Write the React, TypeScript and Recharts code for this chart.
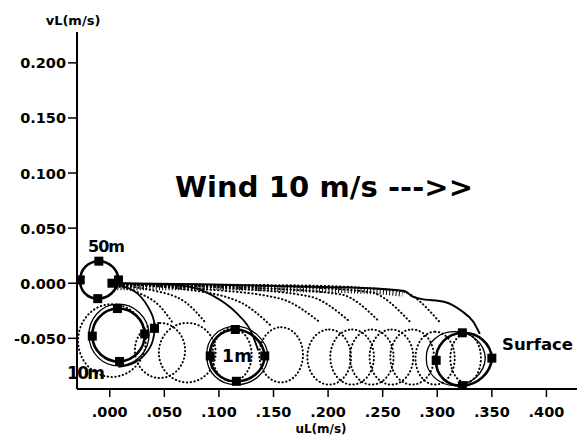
import React from 'react';
import { LineChart, Line, XAxis, YAxis } from 'recharts';

const xTicks = [0, 0.05, 0.1, 0.15, 0.2, 0.25, 0.3, 0.35, 0.4];
const yTicks = [-0.05, 0, 0.05, 0.1, 0.15, 0.2];

// circles are given by their four extreme points: top, right, bottom, left
const ring50m = [[-0.010, 0.020], [0.008, 0.003], [-0.011, -0.014], [-0.027, 0.003]];
const ring10m = [[0.007, -0.023], [0.032, -0.046], [0.009, -0.071], [-0.016, -0.048]];
const ring10mOuter = [[0.007, -0.019], [0.036, -0.046], [0.009, -0.075], [-0.019, -0.048]];
const ring1m = [[0.115, -0.042], [0.142, -0.066], [0.116, -0.089], [0.092, -0.066]];
const ring1mOuter = [[0.115, -0.039], [0.145, -0.066], [0.116, -0.092], [0.089, -0.066]];
const ringSurface = [[0.323, -0.045], [0.350, -0.068], [0.323, -0.093], [0.299, -0.070]];
const ringSurfaceOuter = [[0.316, -0.044], [0.344, -0.068], [0.316, -0.093], [0.290, -0.068]];

const dottedRings = [
  [[0.002, -0.019], [0.033, -0.052], [0.002, -0.085], [-0.029, -0.052]],
  [[0.046, -0.036], [0.069, -0.061], [0.046, -0.086], [0.023, -0.061]],
  [[0.071, -0.036], [0.097, -0.063], [0.071, -0.090], [0.045, -0.063]],
  [[0.112, -0.041], [0.130, -0.065], [0.112, -0.089], [0.094, -0.065]],
  [[0.157, -0.040], [0.177, -0.065], [0.157, -0.090], [0.137, -0.065]],
  [[0.201, -0.042], [0.221, -0.067], [0.201, -0.092], [0.181, -0.067]],
  [[0.222, -0.042], [0.242, -0.067], [0.222, -0.092], [0.202, -0.067]],
  [[0.240, -0.042], [0.260, -0.067], [0.240, -0.092], [0.220, -0.067]],
  [[0.258, -0.042], [0.278, -0.067], [0.258, -0.092], [0.238, -0.067]],
  [[0.277, -0.042], [0.297, -0.067], [0.277, -0.092], [0.257, -0.067]],
  [[0.298, -0.044], [0.316, -0.068], [0.298, -0.092], [0.280, -0.068]],
  [[0.326, -0.046], [0.340, -0.068], [0.326, -0.090], [0.312, -0.068]],
];

// solid paths
const pathSurface = [[0.000, 0.000], [0.082, -0.001], [0.174, -0.003], [0.247, -0.005], [0.270, -0.007], [0.277, -0.012], [0.284, -0.014], [0.307, -0.017], [0.322, -0.025], [0.333, -0.035], [0.339, -0.046]];
const hatchBand = [[0.004, -0.004], [0.082, -0.004], [0.174, -0.006], [0.247, -0.008], [0.268, -0.010]];
const path1m = [[0.002, 0.000], [0.064, -0.002], [0.094, -0.011], [0.116, -0.027], [0.130, -0.045], [0.136, -0.061]];
const path10m = [[0.007, -0.001], [0.025, -0.009], [0.038, -0.027], [0.041, -0.041], [0.037, -0.058], [0.023, -0.072], [0.008, -0.076]];
const extraMarkers = [[0.002, 0.000], [0.041, -0.041]];

// dotted paths
const dottedPaths = [
  [[0.002, -0.002], [0.027, -0.009], [0.046, -0.021], [0.057, -0.035]],
  [[0.002, -0.002], [0.037, -0.006], [0.069, -0.017], [0.087, -0.035]],
  [[0.002, -0.001], [0.064, -0.005], [0.119, -0.017], [0.147, -0.038]],
  [[0.002, -0.001], [0.082, -0.005], [0.156, -0.014], [0.192, -0.035]],
  [[0.002, -0.001], [0.101, -0.004], [0.183, -0.012], [0.220, -0.035]],
  [[0.002, -0.001], [0.128, -0.004], [0.211, -0.010], [0.247, -0.035]],
  [[0.002, -0.001], [0.156, -0.003], [0.238, -0.008], [0.275, -0.035]],
  [[0.002, -0.001], [0.174, -0.002], [0.266, -0.007], [0.302, -0.035]],
];

const toPts = (a: number[][]) => a.map(([x, y]) => ({ x, y }));

// closed curve through the four extreme points, quarter ellipses between them
const ringCurve = (context: any) => {
  let pts: number[][] = [];
  return {
    areaStart() {},
    areaEnd() {},
    lineStart() {
      pts = [];
    },
    point(x: number, y: number) {
      pts.push([+x, +y]);
    },
    lineEnd() {
      if (pts.length < 2) return;
      const xs = pts.map((p) => p[0]);
      const ys = pts.map((p) => p[1]);
      const cx = (Math.min(...xs) + Math.max(...xs)) / 2;
      const cy = (Math.min(...ys) + Math.max(...ys)) / 2;
      const k = 0.5523;
      context.moveTo(pts[0][0], pts[0][1]);
      for (let i = 0; i < pts.length; i++) {
        const a = pts[i];
        const b = pts[(i + 1) % pts.length];
        context.bezierCurveTo(
          a[0] + k * (b[0] - cx), a[1] + k * (b[1] - cy),
          b[0] + k * (a[0] - cx), b[1] + k * (a[1] - cy),
          b[0], b[1]
        );
      }
      context.closePath();
    },
  };
};

const Square = (props: any) => {
  const { cx, cy, index } = props;
  if (cx == null || cy == null) return <g key={`sq-${index}`} />;
  return <rect key={`sq-${index}`} x={cx - 4.5} y={cy - 4.5} width={9} height={9} fill="#000" />;
};

const FONT = '"DejaVu Sans", Verdana, sans-serif';
const DOTS = { strokeDasharray: '0.4 3.4', strokeLinecap: 'round' as const, strokeWidth: 2 };

const XTick = (props: any) => {
  const { x, y, payload } = props;
  const label = payload.value.toFixed(3).replace(/^0/, '');
  return (
    <text x={x} y={y + 19.5} textAnchor="middle" fontFamily={FONT} fontWeight={700} fontSize={14.5} fill="#000">
      {label}
    </text>
  );
};

const YTick = (props: any) => {
  const { x, y, payload } = props;
  const label = payload.value.toFixed(3);
  return (
    <text x={x} y={y + 5.5} textAnchor="end" fontFamily={FONT} fontWeight={700} fontSize={14.5} fill="#000">
      {label}
    </text>
  );
};

export default function App() {
  return (
    <div style={{ position: 'absolute', left: 0, top: 0, width: 577, height: 436, background: '#fff' }}>
      <LineChart width={577} height={436} margin={{ top: 32, right: 0, bottom: 0, left: 0 }}>
        <XAxis
          type="number"
          dataKey="x"
          domain={[-0.03, 0.428]}
          allowDataOverflow
          ticks={xTicks}
          interval={0}
          height={47}
          tickSize={8}
          tickMargin={0}
          axisLine={{ stroke: '#000', strokeWidth: 2 }}
          tickLine={{ stroke: '#000', strokeWidth: 1.5 }}
          tick={<XTick />}
        />
        <YAxis
          type="number"
          dataKey="y"
          domain={[-0.096, 0.228]}
          allowDataOverflow
          ticks={yTicks}
          interval={0}
          width={77}
          tickSize={9}
          tickMargin={2}
          axisLine={{ stroke: '#000', strokeWidth: 2 }}
          tickLine={{ stroke: '#000', strokeWidth: 1.5 }}
          tick={<YTick />}
        />
        {dottedPaths.map((d, i) => (
          <Line key={`dp${i}`} data={toPts(d)} dataKey="y" type="monotone" stroke="#000" {...DOTS} dot={false} activeDot={false} isAnimationActive={false} />
        ))}
        {dottedRings.map((d, i) => (
          <Line key={`dr${i}`} data={toPts(d)} dataKey="y" type={ringCurve as any} stroke="#000" {...DOTS} dot={false} activeDot={false} isAnimationActive={false} />
        ))}
        <Line data={toPts(hatchBand)} dataKey="y" type="monotone" stroke="#000" strokeWidth={5} strokeDasharray="1 2.2" dot={false} activeDot={false} isAnimationActive={false} />
        <Line data={toPts(pathSurface)} dataKey="y" type="monotone" stroke="#000" strokeWidth={2} dot={false} activeDot={false} isAnimationActive={false} />
        <Line data={toPts(path1m)} dataKey="y" type="monotone" stroke="#000" strokeWidth={1.8} dot={false} activeDot={false} isAnimationActive={false} />
        <Line data={toPts(path10m)} dataKey="y" type="natural" stroke="#000" strokeWidth={1.8} dot={false} activeDot={false} isAnimationActive={false} />
        <Line data={toPts(ring10mOuter)} dataKey="y" type={ringCurve as any} stroke="#000" strokeWidth={1.3} dot={false} activeDot={false} isAnimationActive={false} />
        <Line data={toPts(ring1mOuter)} dataKey="y" type={ringCurve as any} stroke="#000" strokeWidth={1.3} dot={false} activeDot={false} isAnimationActive={false} />
        <Line data={toPts(ringSurfaceOuter)} dataKey="y" type={ringCurve as any} stroke="#000" strokeWidth={1.3} dot={false} activeDot={false} isAnimationActive={false} />
        <Line data={toPts(ring50m)} dataKey="y" type={ringCurve as any} stroke="#000" strokeWidth={2.6} dot={<Square />} activeDot={false} isAnimationActive={false} />
        <Line data={toPts(ring10m)} dataKey="y" type={ringCurve as any} stroke="#000" strokeWidth={2.6} dot={<Square />} activeDot={false} isAnimationActive={false} />
        <Line data={toPts(ring1m)} dataKey="y" type={ringCurve as any} stroke="#000" strokeWidth={2.6} dot={<Square />} activeDot={false} isAnimationActive={false} />
        <Line data={toPts(ringSurface)} dataKey="y" type={ringCurve as any} stroke="#000" strokeWidth={2.6} dot={<Square />} activeDot={false} isAnimationActive={false} />
        <Line data={toPts(extraMarkers)} dataKey="y" type="linear" stroke="none" dot={<Square />} activeDot={false} isAnimationActive={false} />
      </LineChart>
      <svg width={577} height={436} style={{ position: 'absolute', left: 0, top: 0, pointerEvents: 'none' }}>
        <g fontFamily={FONT} fontWeight={700} fill="#000">
          <text x={73} y={25} textAnchor="middle" fontSize={13}>vL(m/s)</text>
          <text x={321} y={432.5} textAnchor="middle" fontSize={12}>uL(m/s)</text>
          <text x={175} y={197} fontSize={29} textLength={298} lengthAdjust="spacing">Wind 10 m/s ---&gt;&gt;</text>
          <text x={88} y={252} fontSize={16} textLength={37} lengthAdjust="spacing">50m</text>
          <text x={67} y={379} fontSize={17} textLength={38} lengthAdjust="spacing">10m</text>
          <text x={222} y={362} fontSize={17} textLength={30} lengthAdjust="spacing">1 m</text>
          <text x={502} y={350} fontSize={16.5} textLength={71} lengthAdjust="spacing">Surface</text>
        </g>
      </svg>
    </div>
  );
}
